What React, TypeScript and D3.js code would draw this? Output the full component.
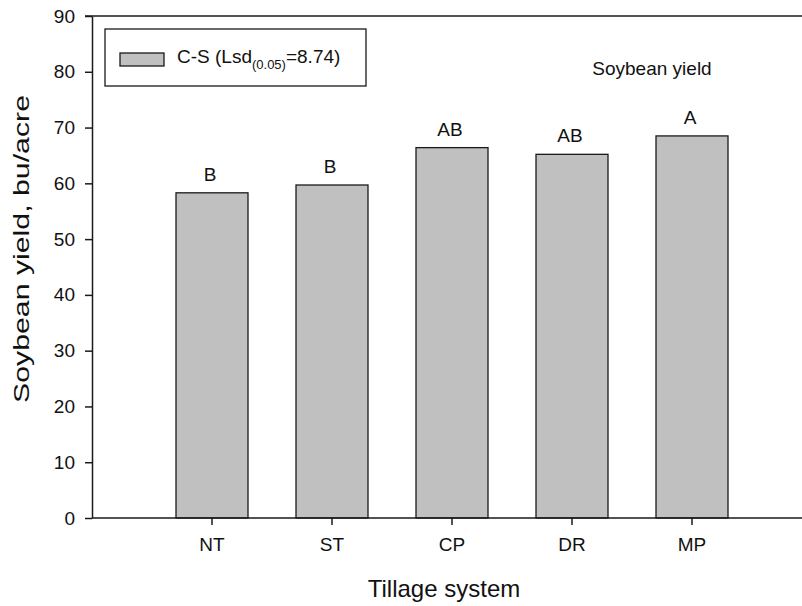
import React, { useEffect, useRef } from 'react';
import * as d3 from 'd3';

const categories = ['NT', 'ST', 'CP', 'DR', 'MP'];
const yieldValues = [58.3, 59.7, 66.4, 65.2, 68.5];
const letters = ['B', 'B', 'AB', 'AB', 'A'];
const yTicks = [0, 10, 20, 30, 40, 50, 60, 70, 80, 90];

const App: React.FC = () => {
    const svgRef = useRef<SVGSVGElement>(null);

    useEffect(() => {
        if (!svgRef.current) return;

        const width = 802;
        const height = 606;
        const left = 92;
        const top = 16;
        const bottom = 518;
        const font = 'Arial, "Liberation Sans", Helvetica, sans-serif';
        const ink = '#1a1a1a';

        d3.select(svgRef.current).selectAll('*').remove();

        const svg = d3.select(svgRef.current)
            .attr('width', width)
            .attr('height', height)
            .style('font-family', font);

        // frame runs 6 slots of 120px, the first one empty
        const frame = d3.scaleLinear().domain([0, 6]).range([left, left + 720]);

        const x = d3.scaleBand()
            .domain(categories)
            .range([frame(0.5), frame(5.5)])
            .paddingInner(0.4)
            .paddingOuter(0.2);

        const y = d3.scaleLinear().domain([0, 90]).range([bottom, top]);

        // bars
        svg.append('g')
            .selectAll('rect')
            .data(categories)
            .enter()
            .append('rect')
            .attr('x', d => x(d)!)
            .attr('y', (d, i) => y(yieldValues[i]))
            .attr('width', x.bandwidth())
            .attr('height', (d, i) => y(0) - y(yieldValues[i]))
            .style('fill', '#c0c0c0')
            .style('stroke', ink)
            .style('stroke-width', 1.3);

        // significance letters
        svg.append('g')
            .selectAll('text')
            .data(categories)
            .enter()
            .append('text')
            .attr('x', d => x(d)! + x.bandwidth() / 2 - 2)
            .attr('y', (d, i) => y(yieldValues[i]) - 12)
            .attr('text-anchor', 'middle')
            .style('font-size', '19px')
            .style('fill', '#111')
            .text((d, i) => letters[i]);

        // y axis
        const yAxis = svg.append('g')
            .attr('transform', `translate(${left},0)`)
            .call(d3.axisLeft(y).tickValues(yTicks).tickSize(7).tickPadding(10).tickSizeOuter(0));
        yAxis.select('.domain').style('stroke', ink).style('stroke-width', 1.5);
        yAxis.selectAll('.tick line').style('stroke', ink).style('stroke-width', 1.5);
        yAxis.selectAll('.tick text')
            .style('font-size', '19px')
            .style('font-family', font)
            .style('fill', '#111');

        // x axis
        const xAxis = svg.append('g')
            .attr('transform', `translate(0,${bottom})`)
            .call(d3.axisBottom(x).tickSize(7).tickPadding(13).tickSizeOuter(0));
        xAxis.select('.domain').remove();
        xAxis.selectAll('.tick line').style('stroke', ink).style('stroke-width', 1.5);
        xAxis.selectAll('.tick text')
            .style('font-size', '19px')
            .style('font-family', font)
            .style('fill', '#111');

        // bottom and top frame lines
        svg.append('line')
            .attr('x1', frame(0)).attr('x2', frame(6))
            .attr('y1', bottom).attr('y2', bottom)
            .style('stroke', ink).style('stroke-width', 1.5);
        svg.append('line')
            .attr('x1', frame(0) - 7).attr('x2', frame(6))
            .attr('y1', top).attr('y2', top)
            .style('stroke', ink).style('stroke-width', 1.5);

        // axis titles
        svg.append('text')
            .attr('x', frame(0) + (width - frame(0)) / 2 - 3)
            .attr('y', 597)
            .attr('text-anchor', 'middle')
            .style('font-size', '24px')
            .style('fill', '#111')
            .text('Tillage system');

        svg.append('text')
            .attr('transform', `translate(29,${(top + bottom) / 2 - 18}) rotate(-90)`)
            .attr('text-anchor', 'middle')
            .attr('textLength', 308)
            .attr('lengthAdjust', 'spacingAndGlyphs')
            .style('font-size', '22px')
            .style('fill', '#111')
            .text('Soybean yield, bu/acre');

        // annotation
        svg.append('text')
            .attr('x', 652)
            .attr('y', 75)
            .attr('text-anchor', 'middle')
            .style('font-size', '19px')
            .style('fill', '#111')
            .text('Soybean yield');

        // legend
        const legend = svg.append('g');
        legend.append('rect')
            .attr('x', 105).attr('y', 29)
            .attr('width', 261).attr('height', 57)
            .style('fill', 'white')
            .style('stroke', ink)
            .style('stroke-width', 1.3);
        legend.append('rect')
            .attr('x', 120).attr('y', 53)
            .attr('width', 44).attr('height', 13)
            .style('fill', '#c0c0c0')
            .style('stroke', ink)
            .style('stroke-width', 1.3);
        const lt = legend.append('text')
            .attr('x', 177)
            .attr('y', 63)
            .style('font-size', '19px')
            .style('fill', '#111');
        lt.append('tspan').text('C-S (Lsd');
        lt.append('tspan').attr('dy', 6).style('font-size', '13px').text('(0.05)');
        lt.append('tspan').attr('dy', -6).text('=8.74)');
    }, []);

    return (
        <svg ref={svgRef} style={{ position: 'absolute', left: 0, top: 0, display: 'block' }}></svg>
    );
};

export default App;
